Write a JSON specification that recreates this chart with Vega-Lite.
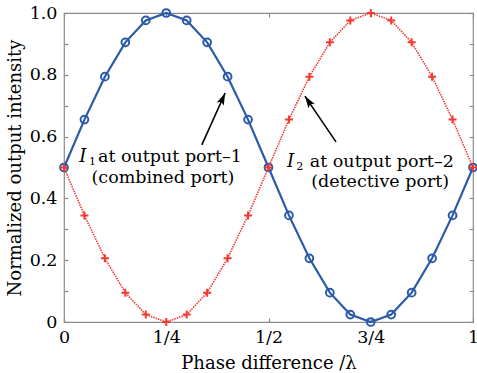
{
  "$schema": "https://vega.github.io/schema/vega-lite/v6.json",
  "width": 409,
  "height": 309,
  "autosize": "none",
  "padding": {"left": 64, "top": 13, "right": 4, "bottom": 51},
  "background": "white",
  "config": {
    "view": {"stroke": "#8a8a8a", "strokeWidth": 1.2},
    "axis": {
      "domain": false, "grid": false, "tickColor": "#8a8a8a", "tickSize": 4, "tickWidth": 1.2, "offset": -4,
      "labelFont": "DejaVu Serif", "labelFontSize": 17.5, "labelColor": "black",
      "titleFont": "DejaVu Serif", "titleFontSize": 18, "titleFontWeight": "normal", "titleColor": "black"
    }
  },
  "datasets": {
    "curves": [
      {"phase": 0.00, "I1": 0.500, "I2": 0.500},
      {"phase": 0.05, "I1": 0.655, "I2": 0.345},
      {"phase": 0.10, "I1": 0.794, "I2": 0.206},
      {"phase": 0.15, "I1": 0.905, "I2": 0.095},
      {"phase": 0.20, "I1": 0.976, "I2": 0.024},
      {"phase": 0.25, "I1": 1.000, "I2": 0.000},
      {"phase": 0.30, "I1": 0.976, "I2": 0.024},
      {"phase": 0.35, "I1": 0.905, "I2": 0.095},
      {"phase": 0.40, "I1": 0.794, "I2": 0.206},
      {"phase": 0.45, "I1": 0.655, "I2": 0.345},
      {"phase": 0.50, "I1": 0.500, "I2": 0.500},
      {"phase": 0.55, "I1": 0.345, "I2": 0.655},
      {"phase": 0.60, "I1": 0.206, "I2": 0.794},
      {"phase": 0.65, "I1": 0.095, "I2": 0.905},
      {"phase": 0.70, "I1": 0.024, "I2": 0.976},
      {"phase": 0.75, "I1": 0.000, "I2": 1.000},
      {"phase": 0.80, "I1": 0.024, "I2": 0.976},
      {"phase": 0.85, "I1": 0.095, "I2": 0.905},
      {"phase": 0.90, "I1": 0.206, "I2": 0.794},
      {"phase": 0.95, "I1": 0.345, "I2": 0.655},
      {"phase": 1.00, "I1": 0.500, "I2": 0.500}
    ],
    "arrows": [
      {"arrow": "a1", "x0": 0.337, "y0": 0.573, "x1": 0.394, "y1": 0.741},
      {"arrow": "a2", "x0": 0.665, "y0": 0.583, "x1": 0.589, "y1": 0.731}
    ],
    "labels": [
      {"role": "I", "lx": 0.037, "ly": 0.534, "txt": "I"},
      {"role": "sub", "lx": 0.061, "ly": 0.534, "txt": "1"},
      {"role": "main", "lx": 0.083, "ly": 0.534, "txt": "at output port–1"},
      {"role": "second", "lx": 0.242, "ly": 0.466, "txt": "(combined port)"},
      {"role": "I", "lx": 0.545, "ly": 0.518, "txt": "I"},
      {"role": "sub", "lx": 0.568, "ly": 0.518, "txt": "2"},
      {"role": "main", "lx": 0.601, "ly": 0.518, "txt": "at output port–2"},
      {"role": "second", "lx": 0.773, "ly": 0.453, "txt": "(detective port)"}
    ]
  },
  "layer": [
    {
      "data": {"name": "curves"},
      "mark": {"type": "line", "color": "#2b5aa8", "strokeWidth": 2.2},
      "encoding": {
        "x": {"field": "phase", "type": "quantitative", "scale": {"domain": [0, 1], "nice": false},
          "axis": {"orient": "bottom", "values": [0, 0.25, 0.5, 0.75, 1], "title": "Phase difference /λ",
            "labelExpr": "datum.value == 0 ? '0' : datum.value == 0.25 ? '1/4' : datum.value == 0.5 ? '1/2' : datum.value == 0.75 ? '3/4' : '1'",
            "labelPadding": 6, "titlePadding": 9, "labelFlush": false}},
        "y": {"field": "I1", "type": "quantitative", "scale": {"domain": [0, 1], "nice": false},
          "axis": {"orient": "left", "values": [0, 0.1, 0.2, 0.3, 0.4, 0.5, 0.6, 0.7, 0.8, 0.9, 1],
            "title": "Normalized output intensity",
            "labelExpr": "datum.value == 0 ? '0' : (round(datum.value * 10) % 2 == 0 ? format(datum.value, '.1f') : '')",
            "labelPadding": 7, "titlePadding": 5, "labelFlush": false}}
      }
    },
    {
      "data": {"name": "curves"},
      "mark": {"type": "point", "shape": "circle", "filled": false, "color": "#2b5aa8", "strokeWidth": 2, "size": 60, "opacity": 1},
      "encoding": {
        "x": {"field": "phase", "type": "quantitative", "axis": {"orient": "top", "values": [0, 0.25, 0.5, 0.75, 1], "labels": false, "title": null}},
        "y": {"field": "I1", "type": "quantitative", "axis": {"orient": "right", "values": [0, 0.1, 0.2, 0.3, 0.4, 0.5, 0.6, 0.7, 0.8, 0.9, 1], "labels": false, "title": null}}
      }
    },
    {
      "data": {"name": "curves"},
      "mark": {"type": "line", "color": "#f23a30", "strokeWidth": 1.6, "strokeDash": [1.5, 1]},
      "encoding": {
        "x": {"field": "phase", "type": "quantitative", "axis": null},
        "y": {"field": "I2", "type": "quantitative", "axis": null}
      }
    },
    {
      "data": {"name": "curves"},
      "mark": {"type": "point", "shape": "M-1,0H1M0,-1V1", "filled": false, "color": "#f23a30", "strokeWidth": 2, "size": 64, "opacity": 1},
      "encoding": {
        "x": {"field": "phase", "type": "quantitative", "axis": null},
        "y": {"field": "I2", "type": "quantitative", "axis": null}
      }
    },
    {
      "data": {"name": "arrows"},
      "mark": {"type": "rule", "color": "black", "strokeWidth": 1.6},
      "encoding": {
        "x": {"field": "x0", "type": "quantitative", "axis": null},
        "y": {"field": "y0", "type": "quantitative", "axis": null},
        "x2": {"field": "x1"},
        "y2": {"field": "y1"}
      }
    },
    {
      "data": {"name": "arrows"},
      "transform": [{"filter": "datum.arrow == 'a1'"}],
      "mark": {"type": "point", "shape": "M0,0L0.32,1L0,0.8L-0.32,1Z", "filled": true, "color": "black", "size": 576, "angle": 24, "opacity": 1},
      "encoding": {
        "x": {"field": "x1", "type": "quantitative", "axis": null},
        "y": {"field": "y1", "type": "quantitative", "axis": null}
      }
    },
    {
      "data": {"name": "arrows"},
      "transform": [{"filter": "datum.arrow == 'a2'"}],
      "mark": {"type": "point", "shape": "M0,0L0.32,1L0,0.8L-0.32,1Z", "filled": true, "color": "black", "size": 576, "angle": 326, "opacity": 1},
      "encoding": {
        "x": {"field": "x1", "type": "quantitative", "axis": null},
        "y": {"field": "y1", "type": "quantitative", "axis": null}
      }
    },
    {
      "data": {"name": "labels"},
      "transform": [{"filter": "datum.role == 'I'"}],
      "mark": {"type": "text", "align": "left", "baseline": "middle", "font": "DejaVu Serif", "fontSize": 18, "fontStyle": "italic", "color": "black"},
      "encoding": {
        "x": {"field": "lx", "type": "quantitative", "axis": null},
        "y": {"field": "ly", "type": "quantitative", "axis": null},
        "text": {"field": "txt"}
      }
    },
    {
      "data": {"name": "labels"},
      "transform": [{"filter": "datum.role == 'sub'"}],
      "mark": {"type": "text", "align": "left", "baseline": "middle", "dy": 5, "font": "DejaVu Serif", "fontSize": 11, "color": "black"},
      "encoding": {
        "x": {"field": "lx", "type": "quantitative", "axis": null},
        "y": {"field": "ly", "type": "quantitative", "axis": null},
        "text": {"field": "txt"}
      }
    },
    {
      "data": {"name": "labels"},
      "transform": [{"filter": "datum.role == 'main'"}],
      "mark": {"type": "text", "align": "left", "baseline": "middle", "font": "DejaVu Serif", "fontSize": 17.5, "color": "black"},
      "encoding": {
        "x": {"field": "lx", "type": "quantitative", "axis": null},
        "y": {"field": "ly", "type": "quantitative", "axis": null},
        "text": {"field": "txt"}
      }
    },
    {
      "data": {"name": "labels"},
      "transform": [{"filter": "datum.role == 'second'"}],
      "mark": {"type": "text", "align": "center", "baseline": "middle", "font": "DejaVu Serif", "fontSize": 17.5, "color": "black"},
      "encoding": {
        "x": {"field": "lx", "type": "quantitative", "axis": null},
        "y": {"field": "ly", "type": "quantitative", "axis": null},
        "text": {"field": "txt"}
      }
    }
  ]
}
